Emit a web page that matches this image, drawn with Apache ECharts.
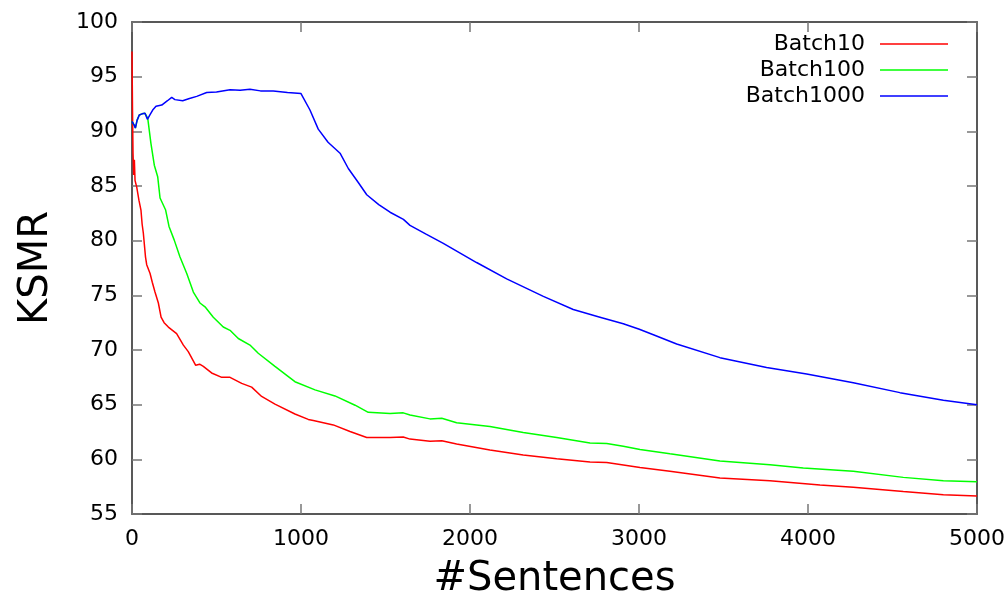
<!DOCTYPE html>
<html>
<head>
<meta charset="utf-8">
<script src="https://cdn.jsdelivr.net/npm/echarts@6/dist/echarts.min.js"></script>
<style>
  html, body { margin: 0; padding: 0; background: #fff; }
  #chart { width: 1008px; height: 595px; }
</style>
</head>
<body>
<div id="chart"></div>
<script>
var seriesNames = ['Batch10', 'Batch100', 'Batch1000'];
var seriesColors = ['#ff0000', '#00ff00', '#0000ff'];

// [#sentences, KSMR]
var batch10 = [
    [0, 97.3], [3, 92], [6, 88], [10, 86], [14, 87.4], [18, 85.5], [24, 85.4], [28, 84.9],
    [41, 83.7], [53, 82.8], [60, 81.5], [67, 80.7], [80, 78.5], [87, 77.8], [107, 77.0],
    [120, 76.2], [136, 75.3], [156, 74.3], [172, 73.0], [190, 72.5], [215, 72.1], [264, 71.5],
    [304, 70.45], [333, 69.85], [377, 68.6], [400, 68.7], [422, 68.5], [471, 67.9], [531, 67.5],
    [580, 67.5], [649, 66.95], [708, 66.6], [767, 65.75], [846, 65.05], [964, 64.15],
    [1043, 63.65], [1073, 63.55], [1191, 63.15], [1290, 62.55], [1389, 62.0], [1527, 62.0],
    [1605, 62.05], [1645, 61.85], [1763, 61.65], [1833, 61.7], [1921, 61.4], [2118, 60.85],
    [2315, 60.4], [2513, 60.05], [2710, 59.75], [2809, 59.7], [3006, 59.25], [3183, 58.9],
    [3479, 58.3], [3775, 58.05], [4071, 57.65], [4268, 57.45], [4564, 57.05], [4801, 56.75],
    [5000, 56.65]
];
var batch100 = [
    [0, 90.9], [12, 90.6], [20, 90.3], [30, 91.0], [43, 91.5], [60, 91.6], [77, 91.65],
    [93, 91.2], [112, 88.9], [132, 86.9], [152, 85.85], [166, 83.9], [199, 82.8], [219, 81.3],
    [250, 80.05], [284, 78.5], [324, 77.0], [363, 75.3], [402, 74.3], [432, 73.95], [481, 73.0],
    [540, 72.1], [580, 71.8], [629, 71.05], [698, 70.45], [747, 69.7], [846, 68.5], [964, 67.1],
    [1083, 66.35], [1201, 65.8], [1320, 64.95], [1398, 64.3], [1527, 64.2], [1605, 64.25],
    [1645, 64.05], [1763, 63.7], [1833, 63.75], [1921, 63.35], [2118, 63.0], [2315, 62.45],
    [2513, 62.0], [2710, 61.5], [2809, 61.45], [2907, 61.2], [3006, 60.9], [3183, 60.5],
    [3479, 59.85], [3775, 59.5], [3972, 59.2], [4268, 58.9], [4564, 58.35], [4801, 58.05],
    [5000, 57.95]
];
var batch1000 = [
    [0, 90.9], [12, 90.6], [20, 90.3], [30, 91.0], [43, 91.5], [60, 91.6], [77, 91.65],
    [91, 91.1], [106, 91.5], [125, 92.0], [142, 92.3], [176, 92.4], [210, 92.8], [235, 93.1],
    [254, 92.9], [300, 92.8], [340, 93.0], [383, 93.2], [442, 93.55], [500, 93.6], [580, 93.8],
    [640, 93.75], [698, 93.85], [760, 93.7], [836, 93.7], [920, 93.55], [1000, 93.45],
    [1053, 91.95], [1102, 90.2], [1160, 89.0], [1231, 88.0], [1280, 86.6], [1340, 85.3],
    [1389, 84.2], [1460, 83.3], [1527, 82.6], [1606, 81.95], [1645, 81.4], [1740, 80.6],
    [1842, 79.75], [2039, 78.0], [2217, 76.5], [2434, 74.9], [2611, 73.7], [2769, 73.0],
    [2907, 72.4], [3002, 71.9], [3085, 71.4], [3223, 70.55], [3479, 69.3], [3755, 68.4],
    [3992, 67.8], [4268, 67.0], [4544, 66.1], [4801, 65.4], [5000, 65.0]
];
var allData = [batch10, batch100, batch1000];

var font = 'DejaVu Sans';
var chart = echarts.init(document.getElementById('chart'));

var series = [];
for (var i = 0; i < allData.length; i++) {
    series.push({
        name: seriesNames[i],
        type: 'line',
        data: allData[i],
        symbol: 'none',
        color: seriesColors[i],
        lineStyle: { width: 1.5, color: seriesColors[i] },
        animation: false
    });
}

var tickStyle = { show: true, inside: true, length: 10, lineStyle: { color: '#777', width: 1.5 } };
var frameLine = { show: true, onZero: false, lineStyle: { color: '#222', width: 1.5 } };
var plainNum = function (v) { return String(v); };

chart.setOption({
    backgroundColor: '#fff',
    animation: false,
    grid: { left: 132, right: 31, top: 22, bottom: 81, outerBoundsMode: 'none', containLabel: false },
    legend: {
        orient: 'vertical',
        right: 60,
        top: 33,
        padding: 0,
        align: 'right',
        icon: 'rect',
        itemWidth: 68,
        itemHeight: 1.5,
        itemGap: 4,
        textStyle: { fontFamily: font, fontSize: 22, color: '#000', padding: [0, 10, 0, 0] },
        data: seriesNames
    },
    xAxis: [{
        type: 'value',
        min: 0, max: 5000, interval: 1000,
        name: '#Sentences',
        nameLocation: 'middle',
        nameGap: 46,
        nameTextStyle: { fontFamily: font, fontSize: 40, color: '#000' },
        axisLine: frameLine,
        axisTick: tickStyle,
        axisLabel: { fontFamily: font, fontSize: 22, color: '#000', margin: 14, formatter: plainNum },
        splitLine: { show: false }
    }, {
        type: 'value', position: 'top',
        min: 0, max: 5000, interval: 1000,
        axisLine: frameLine,
        axisTick: tickStyle,
        axisLabel: { show: false },
        splitLine: { show: false }
    }],
    yAxis: [{
        type: 'value',
        min: 55, max: 100, interval: 5,
        name: 'KSMR',
        nameLocation: 'middle',
        nameGap: 75,
        nameTextStyle: { fontFamily: font, fontSize: 40, color: '#000' },
        axisLine: frameLine,
        axisTick: tickStyle,
        axisLabel: { fontFamily: font, fontSize: 22, color: '#000', margin: 14, formatter: plainNum },
        splitLine: { show: false }
    }, {
        type: 'value', position: 'right',
        min: 55, max: 100, interval: 5,
        axisLine: frameLine,
        axisTick: tickStyle,
        axisLabel: { show: false },
        splitLine: { show: false }
    }],
    series: series
});
</script>
</body>
</html>
